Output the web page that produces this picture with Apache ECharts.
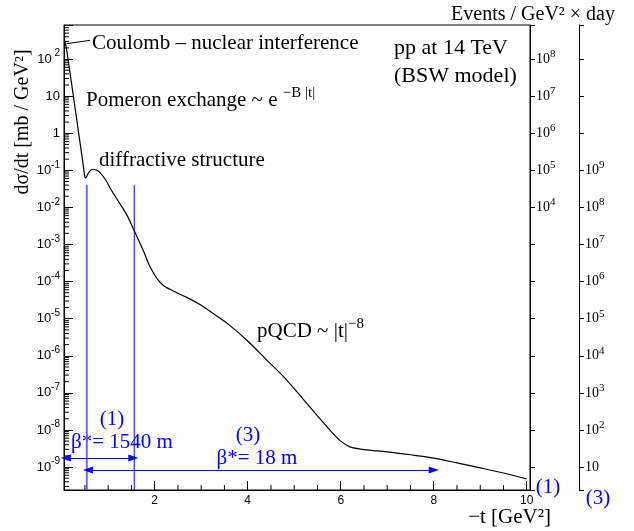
<!DOCTYPE html>
<html><head><meta charset="utf-8">
<script src="https://cdn.jsdelivr.net/npm/echarts@6/dist/echarts.min.js"></script>
<style>html,body{margin:0;padding:0;background:#fff}#c{width:634px;height:531px}</style>
</head><body><div id="c"></div>
<script>
// ---- data ----
const tValues = [0.06,0.10,0.20,0.30,0.40,0.47,0.50,0.52,0.56,0.62,0.68,0.75,0.83,0.95,1.05,1.20,1.40,1.55,1.75,1.90,2.05,2.20,2.40,2.70,3.00,3.30,3.60,4.00,4.40,4.80,5.20,5.50,5.80,6.00,6.20,6.50,7.00,7.50,8.00,8.50,9.00,9.50,10.00];
const dsdtValues = [3.2e2,2.0e2,28,3.8,0.50,0.12,6.6e-2,6.3e-2,7.9e-2,0.100,0.107,0.102,8.5e-2,5.4e-2,3.2e-2,1.6e-2,6.3e-3,2.5e-3,7.1e-4,2.5e-4,1.2e-4,7.6e-5,5.6e-5,3.7e-5,2.3e-5,1.26e-5,6.8e-6,2.5e-6,7.9e-7,2.5e-7,6.6e-8,2.4e-8,8.9e-9,5.0e-9,3.5e-9,2.95e-9,2.57e-9,2.14e-9,1.74e-9,1.29e-9,9.5e-10,6.9e-10,4.8e-10];
const xTickLabels = [2,4,6,8,10];
const leftExponents = [-9,-8,-7,-6,-5,-4,-3,-2,-1,0,1,2];
const axis1LabelExponents = [4,5,6,7,8];
const axis3LabelExponents = [1,2,3,4,5,6,7,8,9];
const eventsFactor1 = 1e6;   // (1) beta*=1540 m
const eventsFactor3 = 1e10;  // (3) beta*=18 m
const xRange = [0.05, 10.07];
const yRange = [2.4e-10, 830];
const acceptanceT = [0.54, 1.56];
const acceptanceTop = 4.0e-2;
const arrow1 = {t: [0.09, 1.54], y: 1.75e-9};
const arrow3 = {t: [0.565, 8.0], y: 8.3e-10};
const coulombLeader = {t: [0.105, 0.61], y: [2.6e2, 3.2e2]};

// ---- helpers ----
const lg = Math.log10;
const LMIN = lg(yRange[0]), LMAX = lg(yRange[1]);
const isInt = v => Math.abs(v - Math.round(v)) < 1e-6;
const SERIF = 'Liberation Serif';
const SANS = 'Liberation Sans';

const curve = tValues.map((t, i) => [t, lg(dsdtValues[i])]);

const minorY = [];
for (let n = -10; n <= 3; n++) for (let k = 2; k <= 9; k++) {
  const v = n + lg(k);
  if (v > LMIN && v < LMAX) minorY.push([xRange[0], v]);
}
const minorX = [];
for (let v = 0.5; v < 10; v += 0.5) if (Math.abs(v / 2 - Math.round(v / 2)) > 1e-6) minorX.push([v, LMIN]);

function leftFmt(v) {
  if (!isInt(v)) return '';
  const n = Math.round(v);
  if (!leftExponents.includes(n)) return '';
  if (n === 0) return '{b|1}';
  if (n === 1) return '{b|10}';
  return '{b|10}{s|' + (n === 2 ? ' ' : '') + n + '}';
}
function rightFmt(list) {
  return function (v) {
    if (!isInt(v)) return '';
    const n = Math.round(v);
    if (!list.includes(n)) return '';
    if (n === 1) return '{b|10}';
    return '{b|10}{s|' + n + '}';
  };
}
const rightRich = {
  b: {fontFamily: SERIF, fontSize: 14, color: '#000'},
  s: {fontFamily: SERIF, fontSize: 11, color: '#000', padding: [0, 0, 10, 0]}
};

const chart = echarts.init(document.getElementById('c'), null, {renderer: 'canvas'});
const blue = '#0000ff';

const option = {
  animation: false,
  backgroundColor: '#fff',
  grid: {left: 64, top: 25, right: 104, bottom: 41, show: true, borderColor: '#000', borderWidth: 1,
         containLabel: false, outerBoundsMode: 'none'},
  xAxis: [{
    type: 'value', min: xRange[0], max: xRange[1], splitNumber: 5,
    axisLine: {onZero: false, lineStyle: {color: '#000', width: 1}},
    axisTick: {inside: true, length: 9, lineStyle: {color: '#000'}},
    axisLabel: {formatter: v => (isInt(v) && xTickLabels.includes(Math.round(v))) ? String(Math.round(v)) : '',
                fontFamily: SANS, fontSize: 12, color: '#000', margin: 5},
    splitLine: {show: false}
  }],
  yAxis: [{
    type: 'value', min: LMIN, max: LMAX, splitNumber: 12, position: 'left',
    axisLine: {onZero: false, lineStyle: {color: '#000'}},
    axisTick: {inside: true, length: 9, lineStyle: {color: '#000'}},
    axisLabel: {formatter: leftFmt, margin: 4, rich: {
      b: {fontFamily: SANS, fontSize: 13, color: '#000'},
      s: {fontFamily: SANS, fontSize: 10, color: '#000', padding: [0, 0, 11, 0]}}},
    splitLine: {show: false}
  }, {
    type: 'value', min: LMIN + lg(eventsFactor1), max: LMAX + lg(eventsFactor1), splitNumber: 12,
    position: 'right', offset: 0,
    axisLine: {show: true, onZero: false, lineStyle: {color: '#000'}},
    axisTick: {inside: false, length: 5, lineStyle: {color: '#000'}},
    axisLabel: {formatter: rightFmt(axis1LabelExponents), margin: 6, rich: rightRich},
    splitLine: {show: false}
  }, {
    type: 'value', min: LMIN + lg(eventsFactor3), max: LMAX + lg(eventsFactor3), splitNumber: 12,
    position: 'right', offset: 49,
    axisLine: {show: true, onZero: false, lineStyle: {color: '#000'}},
    axisTick: {inside: false, length: 5, lineStyle: {color: '#000'}},
    axisLabel: {formatter: rightFmt(axis3LabelExponents), margin: 6, rich: rightRich},
    splitLine: {show: false}
  }],
  series: [
    {type: 'line', data: curve, smooth: 0.3, symbol: 'none', silent: true,
     lineStyle: {color: '#000', width: 1.2}},
    {type: 'line', data: [[acceptanceT[0], lg(acceptanceTop)], [acceptanceT[0], LMIN]], symbol: 'none', silent: true,
     lineStyle: {color: '#6a6aff', width: 2}},
    {type: 'line', data: [[acceptanceT[1], lg(acceptanceTop)], [acceptanceT[1], LMIN]], symbol: 'none', silent: true,
     lineStyle: {color: blue, width: 1}},
    {type: 'line', data: [], silent: true,
     markLine: {silent: true, symbol: ['triangle', 'triangle'], symbolSize: [7, 10],
       label: {show: false}, lineStyle: {color: blue, width: 1, type: 'solid'},
       data: [
         [{coord: [arrow1.t[0], lg(arrow1.y)]}, {coord: [arrow1.t[1], lg(arrow1.y)]}],
         [{coord: [arrow3.t[0], lg(arrow3.y)]}, {coord: [arrow3.t[1], lg(arrow3.y)]}]
       ]}},
    {type: 'line', data: [[coulombLeader.t[0], lg(coulombLeader.y[0])], [coulombLeader.t[1], lg(coulombLeader.y[1])]],
     symbol: 'none', silent: true, lineStyle: {color: '#000', width: 1}},
    {type: 'custom', silent: true, clip: false, data: minorY,
     renderItem: (p, api) => {
       const c = api.coord([api.value(0), api.value(1)]);
       return {type: 'line', shape: {x1: c[0], y1: c[1], x2: c[0] + 5, y2: c[1]}, style: {stroke: '#000', lineWidth: 1}};
     }},
    {type: 'custom', silent: true, clip: false, data: minorX,
     renderItem: (p, api) => {
       const c = api.coord([api.value(0), api.value(1)]);
       return {type: 'line', shape: {x1: c[0], y1: c[1], x2: c[0], y2: c[1] - 5}, style: {stroke: '#000', lineWidth: 1}};
     }}
  ],
  graphic: [
    {type: 'text', x: 23, y: 122, rotation: Math.PI / 2,
     style: {text: 'dσ/dt [mb / GeV²]', font: '20px "Liberation Serif"', fill: '#000', align: 'center', verticalAlign: 'middle'}},
    {type: 'text', x: 551, y: 517,
     style: {text: '−t [GeV²]', font: '21px "Liberation Serif"', fill: '#000', align: 'right', verticalAlign: 'middle'}},
    {type: 'text', x: 615, y: 15,
     style: {text: 'Events / GeV² × day', font: '20px "Liberation Serif"', fill: '#000', align: 'right', verticalAlign: 'middle'}},
    {type: 'text', x: 92, y: 43,
     style: {text: 'Coulomb – nuclear interference', font: '21px "Liberation Serif"', fill: '#000', align: 'left', verticalAlign: 'middle'}},
    {type: 'text', x: 86, y: 100,
     style: {text: 'Pomeron exchange ~ e {s|−B |t|}', font: '21px "Liberation Serif"', fill: '#000', align: 'left', verticalAlign: 'middle',
       rich: {s: {font: '15px "Liberation Serif"', fill: '#000', padding: [0, 0, 14, 0]}}}},
    {type: 'text', x: 99, y: 160,
     style: {text: 'diffractive structure', font: '21px "Liberation Serif"', fill: '#000', align: 'left', verticalAlign: 'middle'}},
    {type: 'text', x: 394, y: 48,
     style: {text: 'pp at 14 TeV', font: '22px "Liberation Serif"', fill: '#000', align: 'left', verticalAlign: 'middle'}},
    {type: 'text', x: 394, y: 76,
     style: {text: '(BSW model)', font: '22px "Liberation Serif"', fill: '#000', align: 'left', verticalAlign: 'middle'}},
    {type: 'text', x: 257, y: 331,
     style: {text: 'pQCD ~ |t|{s|−8}', font: '21px "Liberation Serif"', fill: '#000', align: 'left', verticalAlign: 'middle',
       rich: {s: {font: '15px "Liberation Serif"', fill: '#000', padding: [0, 0, 14, 0]}}}},
    {type: 'text', x: 112, y: 419,
     style: {text: '(1)', font: '21px "Liberation Serif"', fill: blue, align: 'center', verticalAlign: 'middle'}},
    {type: 'text', x: 122, y: 442,
     style: {text: 'β*= 1540 m', font: '21px "Liberation Serif"', fill: blue, align: 'center', verticalAlign: 'middle'}},
    {type: 'text', x: 248, y: 435,
     style: {text: '(3)', font: '21px "Liberation Serif"', fill: blue, align: 'center', verticalAlign: 'middle'}},
    {type: 'text', x: 257, y: 458,
     style: {text: 'β*= 18 m', font: '21px "Liberation Serif"', fill: blue, align: 'center', verticalAlign: 'middle'}},
    {type: 'text', x: 548, y: 487,
     style: {text: '(1)', font: '21px "Liberation Serif"', fill: blue, align: 'center', verticalAlign: 'middle'}},
    {type: 'text', x: 598, y: 498,
     style: {text: '(3)', font: '21px "Liberation Serif"', fill: blue, align: 'center', verticalAlign: 'middle'}}
  ]
};
chart.setOption(option);
</script>
</body></html>
